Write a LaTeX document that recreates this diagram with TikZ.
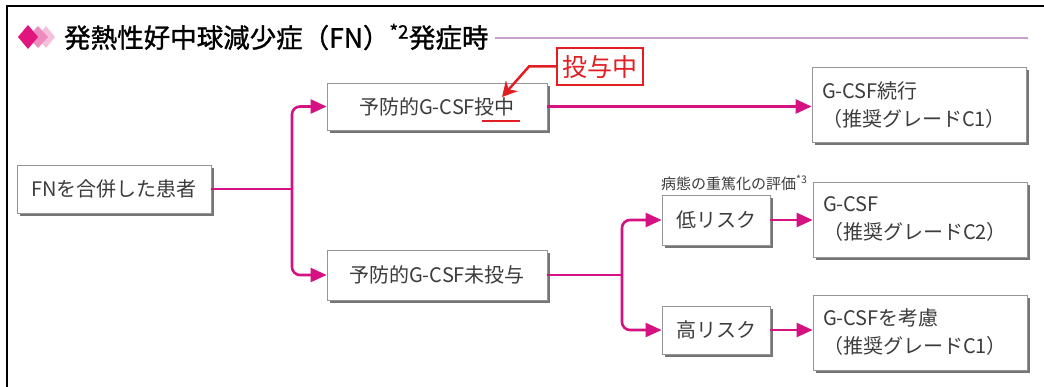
\documentclass[tikz,border=0pt]{standalone}
\usepackage{fontspec}
\setmainfont{Noto Sans CJK JP}
\newfontfamily\titlefont[FakeBold=1.2]{Noto Sans CJK JP}
\usetikzlibrary{arrows.meta,shadows,calc}
\definecolor{mag}{RGB}{214,18,130}
\definecolor{txt}{RGB}{60,60,60}
\definecolor{boxline}{RGB}{150,150,150}
\definecolor{dA}{RGB}{226,21,127}
\definecolor{dB}{RGB}{238,140,192}
\definecolor{dC}{RGB}{246,192,220}
\definecolor{tline}{RGB}{200,160,200}
\definecolor{redc}{RGB}{225,30,35}
\tikzset{
  box/.style={draw=boxline, line width=0.8pt, fill=white, text=txt,
    font=\fontsize{20}{28}\selectfont, inner sep=0pt,
    drop shadow={shadow xshift=3pt, shadow yshift=-3pt, fill=black!60, opacity=0.9}},
  rbox/.style={box, align=left, inner xsep=10pt, text width=194pt,
    minimum height=75pt},
  flow/.style={draw=mag, line width=2.6pt, rounded corners=8pt},
  tip/.style={-{Triangle[length=16pt,width=14pt]}},
  redarrow/.style={draw=redc, line width=2.5pt, -{Stealth[length=15pt,width=16pt,inset=5pt]}},
  labelbox/.style={draw=redc, line width=2pt, fill=white, text=redc,
    font=\fontsize{25}{25}\selectfont, inner sep=0pt},
}
\begin{document}
\begin{tikzpicture}[x=1pt,y=-1pt]
\useasboundingbox (0,0) rectangle (1044,387);
\fill[white] (0,0) rectangle (1044,387);
% frame
\draw[black, line width=2pt] (7,387) -- (7,6) -- (1044,6);
% title diamonds
\fill[dC] (46,26) -- (55,37) -- (46,48) -- (37,37) -- cycle;
\fill[dB] (38,26) -- (48,37) -- (38,48) -- (28,37) -- cycle;
\fill[dA] (28,25) -- (38,37) -- (28,49) -- (18,37) -- cycle;
\node[anchor=west, inner sep=0pt, font=\titlefont\fontsize{26.5}{27}\selectfont] (title) at (64,37)
  {発熱性好中球減少症（FN）\textsuperscript{*2}発症時};
\coordinate (tlend) at (1028,38);
\draw[tline, line width=1.3pt] ([xshift=6pt]title.east |- tlend) -- (tlend);

% nodes
\node[box, minimum width=194pt, minimum height=48pt] (fn) at (114,189) {FNを合併した患者};
\node[box, minimum width=220pt, minimum height=47pt] (p1) at (437,106.5) {予防的G-CSF投中};
\node[box, minimum width=220pt, minimum height=50pt] (p2) at (437,275) {予防的G-CSF未投与};
\node[rbox] (r1) at (919,105) {G-CSF続行\\（推奨グレードC1）};
\node[box, minimum width=108pt, minimum height=50pt] (low) at (716,220) {低リスク};
\node[box, minimum width=108pt, minimum height=48pt] (high) at (716,330) {高リスク};
\node[rbox] (r2) at (920,219.5) {G-CSF\\（推奨グレードC2）};
\node[rbox] (r3) at (920,332.5) {G-CSFを考慮\\（推奨グレードC1）};
\node[anchor=west, inner sep=0pt, text=txt, font=\fontsize{15}{15}\selectfont] (ev) at (661,183)
  {病態の重篤化の評価\textsuperscript{*3}};
\node[labelbox, minimum width=86pt, minimum height=37pt] (lbl) at (600,66.5) {投与中};

% connectors
\coordinate (j1) at (292,189);
\coordinate (j2) at (622,275);
\draw[flow] (fn.east) -- (j1);
\draw[flow, tip] (j1) |- (p1.west);
\draw[flow, tip] (j1) |- (p2.west);
\draw[flow, tip] (p1.east) -- (p1.east -| r1.west);
\draw[flow] (p2.east) -- (j2);
\draw[flow, tip] (j2) |- (low.west);
\draw[flow, tip] (j2) |- (high.west);
\draw[flow, tip] (low.east) -- (low.east -| r2.west);
\draw[flow, tip] (high.east) -- (high.east -| r3.west);

% red annotation
\coordinate (rt) at (502,97);
\draw[redarrow] (lbl.west) -- ++(-27,0) -- (rt);
\draw[redc, line width=1.5pt] (482,121) -- (520,121);
\end{tikzpicture}
\end{document}
